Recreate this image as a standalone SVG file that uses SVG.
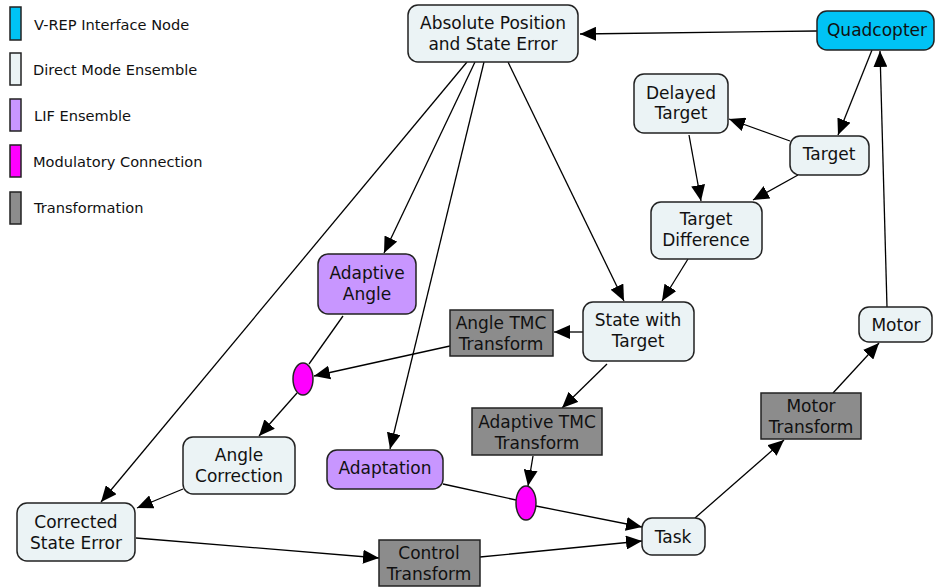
<svg xmlns="http://www.w3.org/2000/svg" width="936" height="587" viewBox="0 0 936 587">
  <defs>
    <marker id="arrow" viewBox="0 0 16 14" refX="16" refY="7" markerWidth="16" markerHeight="14" markerUnits="userSpaceOnUse" orient="auto">
      <path d="M0,0 L16,7 L0,14 Z" fill="#000"/>
    </marker>
    <style>
      .node rect, .node ellipse { stroke: #222; stroke-width: 1.5; }
      .direct { fill: #ebf3f5; }
      .vrep { fill: #00c3f5; }
      .lif { fill: #c896ff; }
      .mod { fill: #ff00ff; }
      .xform { fill: #8c8c8c; }
      .label { font-family: "DejaVu Sans", Verdana, sans-serif; font-size: 17px; fill: #111; text-anchor: middle; }
      .legend text { font-family: "DejaVu Sans", Verdana, sans-serif; font-size: 14.6px; fill: #111; }
      .legend rect { stroke: #222; stroke-width: 1.5; }
      #connectors line { stroke: #000; stroke-width: 1.3; fill: none; }
      #connectors line.arr { marker-end: url(#arrow); }
    </style>
  </defs>
  <rect width="936" height="587" fill="#fff"/>

  <!-- legend -->
  <g class="legend" id="legend">
    <rect x="10" y="7" width="11" height="33" class="vrep"/>
    <text x="34" y="30">V-REP Interface Node</text>
    <rect x="10" y="53" width="11" height="32" class="direct"/>
    <text x="33" y="75">Direct Mode Ensemble</text>
    <rect x="10" y="99" width="11" height="32" class="lif"/>
    <text x="34" y="121">LIF Ensemble</text>
    <rect x="10" y="145" width="11" height="32" class="mod"/>
    <text x="33" y="167">Modulatory Connection</text>
    <rect x="10" y="192" width="11" height="32" class="xform"/>
    <text x="34" y="213">Transformation</text>
  </g>

  <!-- connectors -->
  <g id="connectors">
    <line class="arr" x1="817" y1="31" x2="580" y2="34"/>
    <line class="arr" x1="872" y1="50" x2="838" y2="135"/>
    <line class="arr" x1="790" y1="141" x2="729" y2="119"/>
    <line class="arr" x1="798" y1="175" x2="753" y2="200"/>
    <line class="arr" x1="689" y1="135" x2="701" y2="201"/>
    <line class="arr" x1="688" y1="259" x2="662" y2="301"/>
    <line class="arr" x1="508" y1="62" x2="624" y2="301"/>
    <line class="arr" x1="475" y1="62" x2="384" y2="253"/>
    <line class="arr" x1="484" y1="62" x2="390" y2="449"/>
    <line class="arr" x1="467" y1="62" x2="101" y2="502"/>
    <line class="arr" x1="583" y1="332" x2="554" y2="332"/>
    <line class="arr" x1="607" y1="364" x2="562" y2="408"/>
    <line class="arr" x1="450" y1="346" x2="314" y2="376"/>
    <line x1="343" y1="316" x2="309" y2="364"/>
    <line class="arr" x1="297" y1="393" x2="259" y2="436"/>
    <line class="arr" x1="183" y1="489" x2="137" y2="508"/>
    <line class="arr" x1="533" y1="456" x2="528" y2="486"/>
    <line x1="443" y1="484" x2="516" y2="500"/>
    <line class="arr" x1="536" y1="506" x2="642" y2="527"/>
    <line class="arr" x1="136" y1="538" x2="379" y2="558"/>
    <line class="arr" x1="480" y1="557" x2="642" y2="541"/>
    <line class="arr" x1="695" y1="518" x2="784" y2="440"/>
    <line class="arr" x1="833" y1="393" x2="879" y2="343"/>
    <line class="arr" x1="887" y1="307" x2="880" y2="51"/>
  </g>

  <!-- nodes -->
  <g class="node" id="absolute-position">
    <rect x="408" y="5" width="170" height="57" rx="10" class="direct"/>
    <text class="label" x="493" y="29">Absolute Position</text>
    <text class="label" x="493" y="50">and State Error</text>
  </g>
  <g class="node" id="quadcopter">
    <rect x="817" y="11" width="117" height="39" rx="10" class="vrep"/>
    <text class="label" x="877" y="36">Quadcopter</text>
  </g>
  <g class="node" id="delayed-target">
    <rect x="634" y="74" width="94" height="59" rx="10" class="direct"/>
    <text class="label" x="681" y="99">Delayed</text>
    <text class="label" x="681" y="119">Target</text>
  </g>
  <g class="node" id="target">
    <rect x="790" y="136" width="79" height="39" rx="10" class="direct"/>
    <text class="label" x="829" y="160">Target</text>
  </g>
  <g class="node" id="target-difference">
    <rect x="651" y="202" width="111" height="57" rx="10" class="direct"/>
    <text class="label" x="706" y="225">Target</text>
    <text class="label" x="706" y="246">Difference</text>
  </g>
  <g class="node" id="adaptive-angle">
    <rect x="318" y="254" width="98" height="60" rx="10" class="lif"/>
    <text class="label" x="367" y="279">Adaptive</text>
    <text class="label" x="367" y="300">Angle</text>
  </g>
  <g class="node" id="angle-tmc-transform">
    <rect x="450" y="310" width="103" height="46" class="xform"/>
    <text class="label" x="501" y="329">Angle TMC</text>
    <text class="label" x="501" y="350">Transform</text>
  </g>
  <g class="node" id="state-with-target">
    <rect x="583" y="302" width="111" height="59" rx="10" class="direct"/>
    <text class="label" x="638" y="326">State with</text>
    <text class="label" x="638" y="347">Target</text>
  </g>
  <g class="node" id="motor">
    <rect x="859" y="307" width="73" height="35" rx="10" class="direct"/>
    <text class="label" x="896" y="331">Motor</text>
  </g>
  <g class="node" id="mod-angle">
    <ellipse cx="303" cy="379" rx="10" ry="16" class="mod"/>
  </g>
  <g class="node" id="motor-transform">
    <rect x="761" y="393" width="100" height="46" class="xform"/>
    <text class="label" x="811" y="412">Motor</text>
    <text class="label" x="811" y="433">Transform</text>
  </g>
  <g class="node" id="adaptive-tmc-transform">
    <rect x="472" y="408" width="130" height="47" class="xform"/>
    <text class="label" x="537" y="428">Adaptive TMC</text>
    <text class="label" x="537" y="449">Transform</text>
  </g>
  <g class="node" id="angle-correction">
    <rect x="183" y="437" width="112" height="57" rx="10" class="direct"/>
    <text class="label" x="239" y="461">Angle</text>
    <text class="label" x="239" y="482">Correction</text>
  </g>
  <g class="node" id="adaptation">
    <rect x="327" y="450" width="116" height="39" rx="10" class="lif"/>
    <text class="label" x="385" y="474">Adaptation</text>
  </g>
  <g class="node" id="mod-adapt">
    <ellipse cx="526" cy="503" rx="10" ry="17" class="mod"/>
  </g>
  <g class="node" id="task">
    <rect x="642" y="518" width="63" height="37" rx="10" class="direct"/>
    <text class="label" x="673" y="543">Task</text>
  </g>
  <g class="node" id="corrected-state-error">
    <rect x="17" y="503" width="118" height="58" rx="10" class="direct"/>
    <text class="label" x="76" y="528">Corrected</text>
    <text class="label" x="76" y="549">State Error</text>
  </g>
  <g class="node" id="control-transform">
    <rect x="379" y="540" width="101" height="46" class="xform"/>
    <text class="label" x="429" y="559">Control</text>
    <text class="label" x="429" y="580">Transform</text>
  </g>
</svg>
